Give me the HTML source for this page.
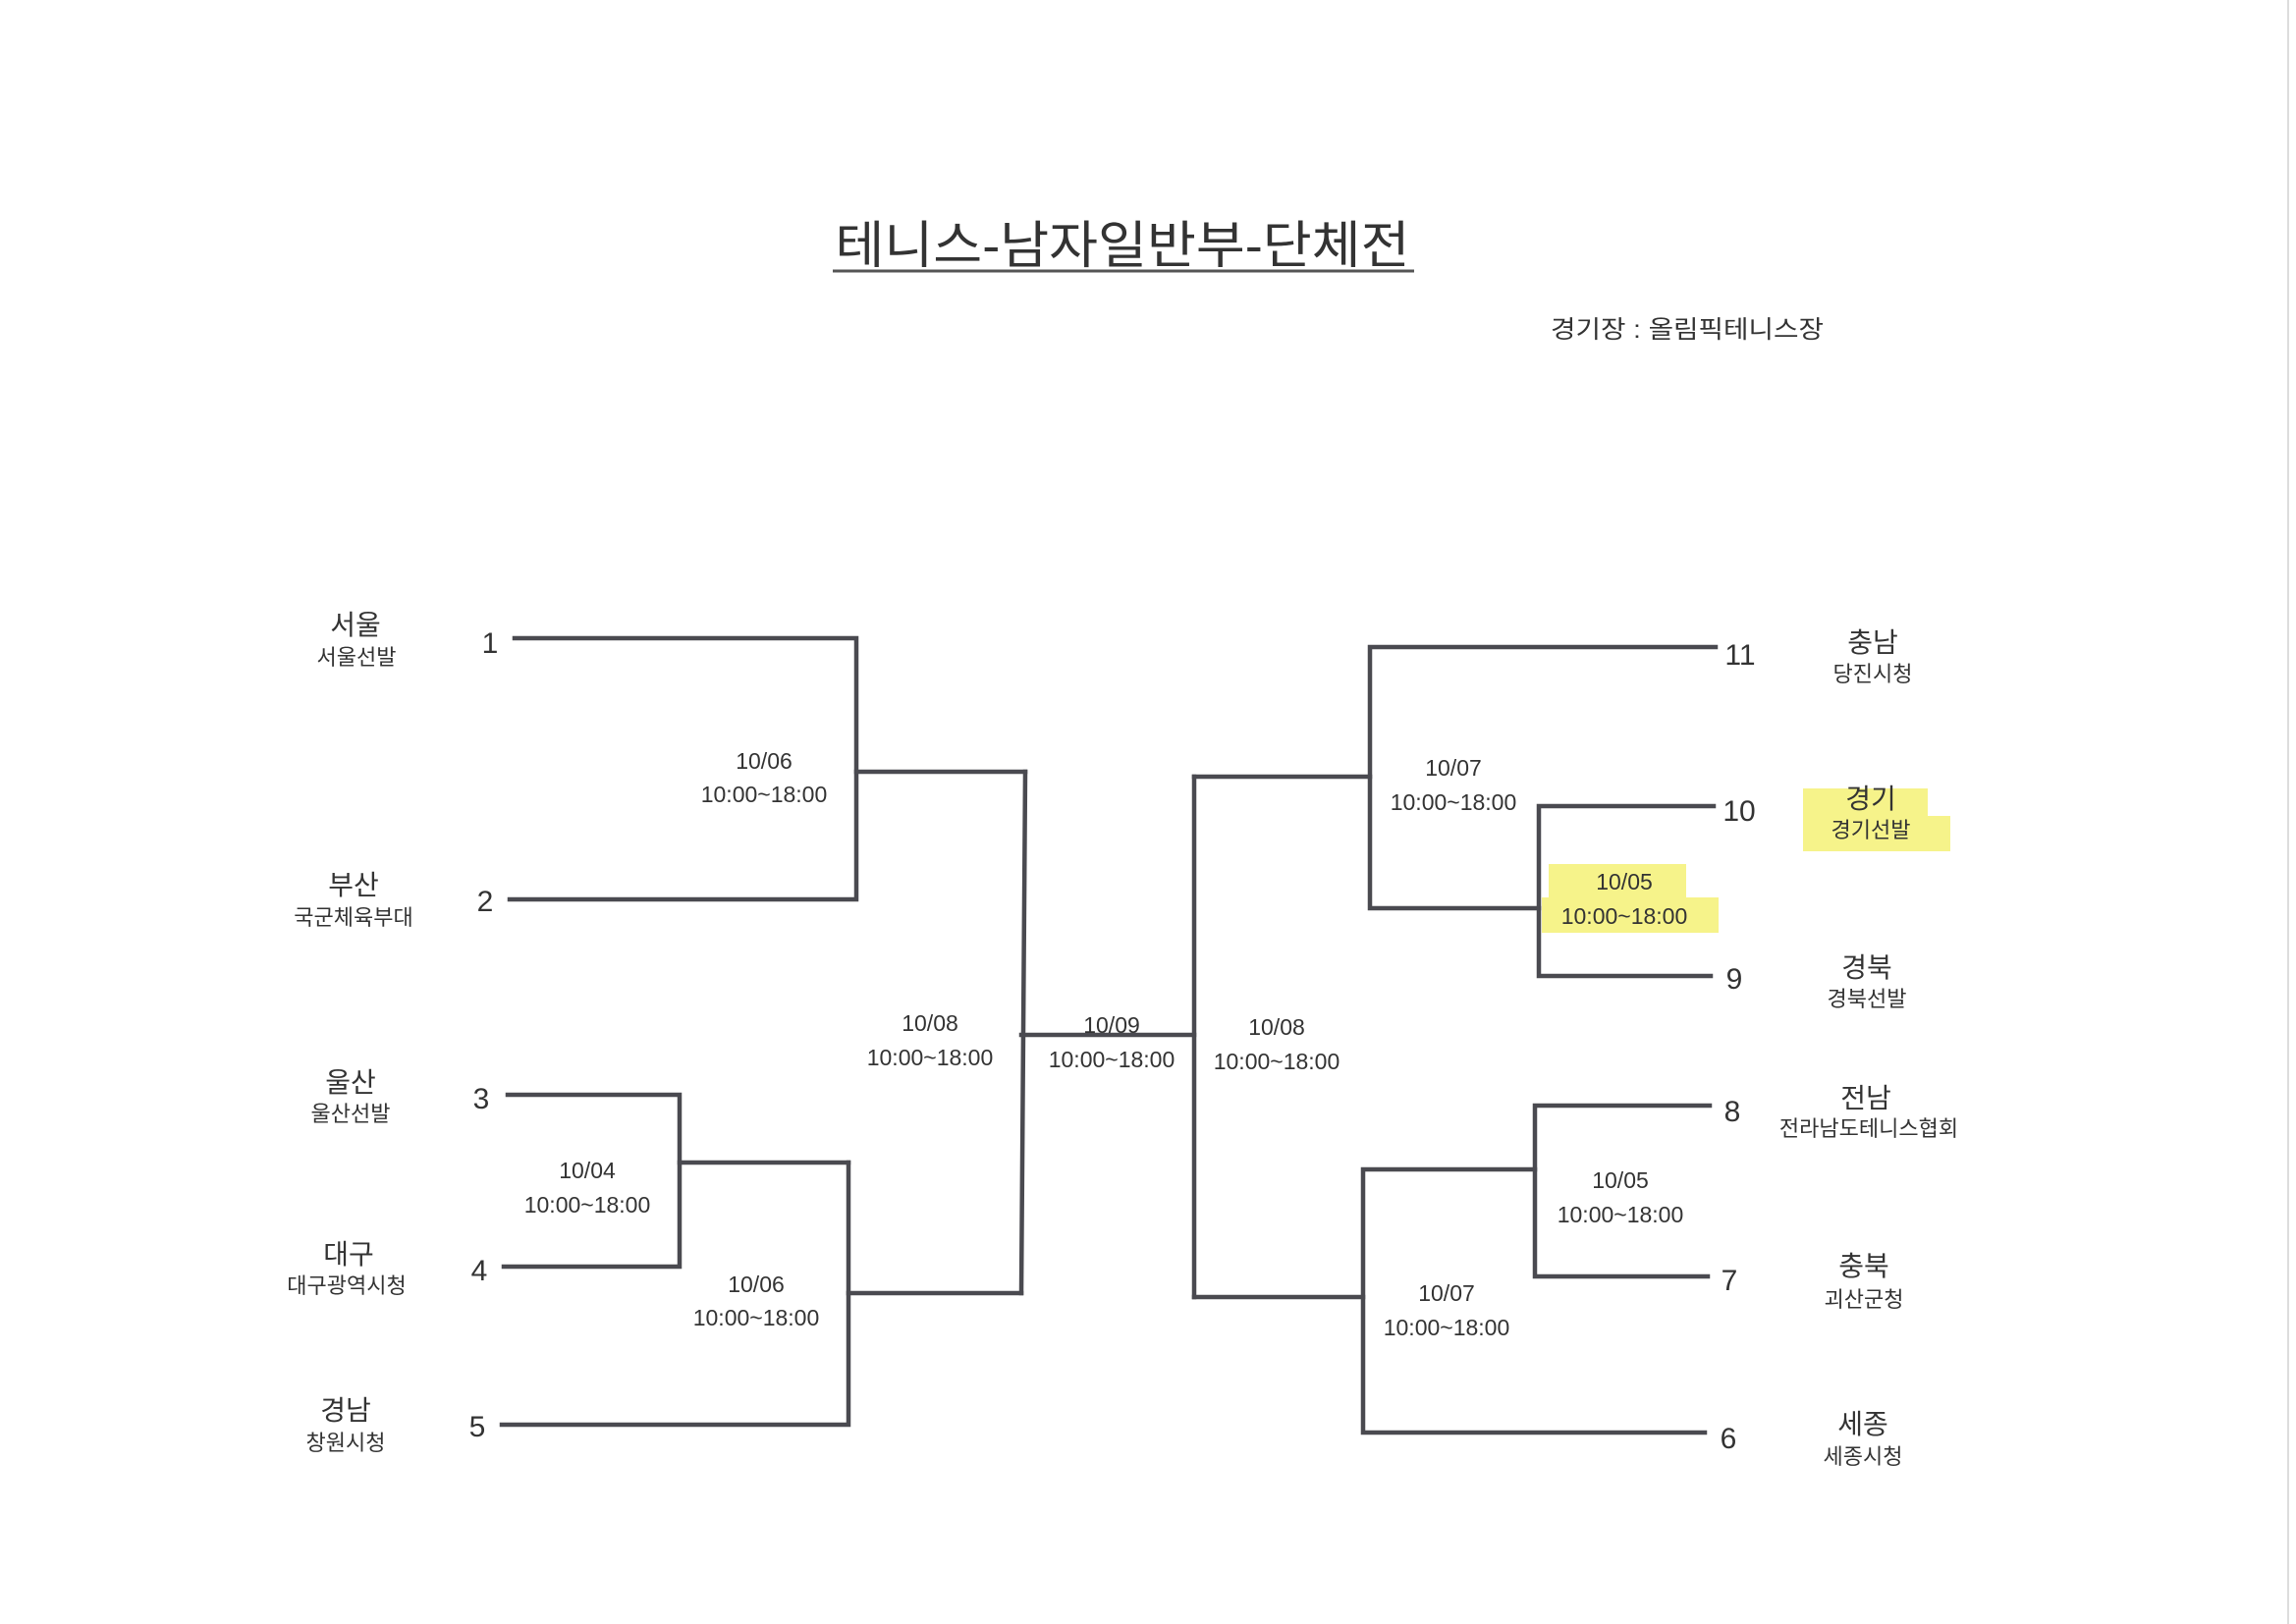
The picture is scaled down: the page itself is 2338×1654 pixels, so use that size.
<!DOCTYPE html>
<html><head><meta charset="utf-8"><style>
html,body{margin:0;padding:0;background:#fff;}
svg{display:block;}
text{font-family:"Liberation Sans","Noto Sans CJK KR","NanumGothic",sans-serif;fill:#333;}
</style></head><body>
<svg width="2338" height="1654" viewBox="0 0 2338 1654" xmlns="http://www.w3.org/2000/svg">
<rect width="2338" height="1654" fill="#fff"/>
<line x1="2330" y1="0" x2="2330" y2="1654" stroke="#ddd" stroke-width="2"/>
<text x="1143" y="268" font-size="52" text-anchor="middle" textLength="585" lengthAdjust="spacingAndGlyphs" fill="#444">테니스-남자일반부-단체전</text>
<line x1="848" y1="276" x2="1440" y2="276" stroke="#555" stroke-width="3"/>
<text x="1718" y="344" font-size="25" text-anchor="middle" textLength="278" lengthAdjust="spacingAndGlyphs" fill="#444">경기장 : 올림픽테니스장</text>

<rect x="1836" y="803" width="127" height="28" fill="#f6f38a"/>
<rect x="1836" y="831" width="150" height="36" fill="#f6f38a"/>
<rect x="1577" y="880" width="140" height="34" fill="#f6f38a"/>
<rect x="1570" y="914" width="180" height="36" fill="#f6f38a"/>

<g stroke="#4a4a50" stroke-width="4.5" fill="none" stroke-linecap="square">
<polyline points="524,650 872,650 872,916 519,916"/>
<line x1="872" y1="786" x2="1044" y2="786"/>
<polyline points="517,1115 692,1115 692,1290 513,1290"/>
<line x1="692" y1="1184" x2="864" y2="1184"/>
<polyline points="864,1184 864,1451 511,1451"/>
<line x1="864" y1="1317" x2="1040" y2="1317"/>
<polyline points="1044,786 1040,1317"/>
<line x1="1040" y1="1054" x2="1216" y2="1054"/>
<line x1="1216" y1="791" x2="1216" y2="1321"/>
<polyline points="1216,791 1395,791"/>
<polyline points="1747,659 1395,659 1395,925 1567,925"/>
<polyline points="1745,821 1567,821 1567,994 1742,994"/>
<polyline points="1216,1321 1388,1321"/>
<polyline points="1736,1459 1388,1459 1388,1191 1563,1191"/>
<polyline points="1741,1126 1563,1126 1563,1300 1739,1300"/>
</g>

<g font-size="30" text-anchor="middle" fill="#333">
<text x="499" y="665">1</text><text x="494" y="928">2</text><text x="490" y="1129">3</text>
<text x="488" y="1304">4</text><text x="486" y="1463">5</text>
<text x="1772" y="677">11</text><text x="1771" y="836">10</text><text x="1766" y="1007">9</text>
<text x="1764" y="1142">8</text><text x="1761" y="1314">7</text><text x="1760" y="1475">6</text>
</g>

<g text-anchor="middle">
<text x="362" y="646" font-size="28">서울</text><text x="363" y="677" font-size="22">서울선발</text>
<text x="360" y="911" font-size="28">부산</text><text x="360" y="942" font-size="22">국군체육부대</text>
<text x="357" y="1112" font-size="28">울산</text><text x="357" y="1142" font-size="22">울산선발</text>
<text x="355" y="1287" font-size="28">대구</text><text x="353" y="1317" font-size="22">대구광역시청</text>
<text x="352" y="1446" font-size="28">경남</text><text x="352" y="1477" font-size="22">창원시청</text>
<text x="1907" y="664" font-size="28">충남</text><text x="1907" y="694" font-size="22">당진시청</text>
<text x="1905" y="823" font-size="28">경기</text><text x="1905" y="853" font-size="22">경기선발</text>
<text x="1901" y="995" font-size="28">경북</text><text x="1901" y="1025" font-size="22">경북선발</text>
<text x="1900" y="1128" font-size="28">전남</text><text x="1903" y="1157" font-size="22">전라남도테니스협회</text>
<text x="1898" y="1299" font-size="28">충북</text><text x="1898" y="1331" font-size="22">괴산군청</text>
<text x="1897" y="1460" font-size="28">세종</text><text x="1897" y="1491" font-size="22">세종시청</text>
</g>

<g text-anchor="middle" font-size="23">
<text x="778" y="783">10/06</text><text x="778" y="817">10:00~18:00</text>
<text x="598" y="1200">10/04</text><text x="598" y="1235">10:00~18:00</text>
<text x="770" y="1316">10/06</text><text x="770" y="1350">10:00~18:00</text>
<text x="947" y="1050">10/08</text><text x="947" y="1085">10:00~18:00</text>
<text x="1132" y="1052">10/09</text><text x="1132" y="1087">10:00~18:00</text>
<text x="1300" y="1054">10/08</text><text x="1300" y="1089">10:00~18:00</text>
<text x="1480" y="790">10/07</text><text x="1480" y="825">10:00~18:00</text>
<text x="1654" y="906">10/05</text><text x="1654" y="941">10:00~18:00</text>
<text x="1650" y="1210">10/05</text><text x="1650" y="1245">10:00~18:00</text>
<text x="1473" y="1325">10/07</text><text x="1473" y="1360">10:00~18:00</text>
</g>
</svg>
</body></html>
